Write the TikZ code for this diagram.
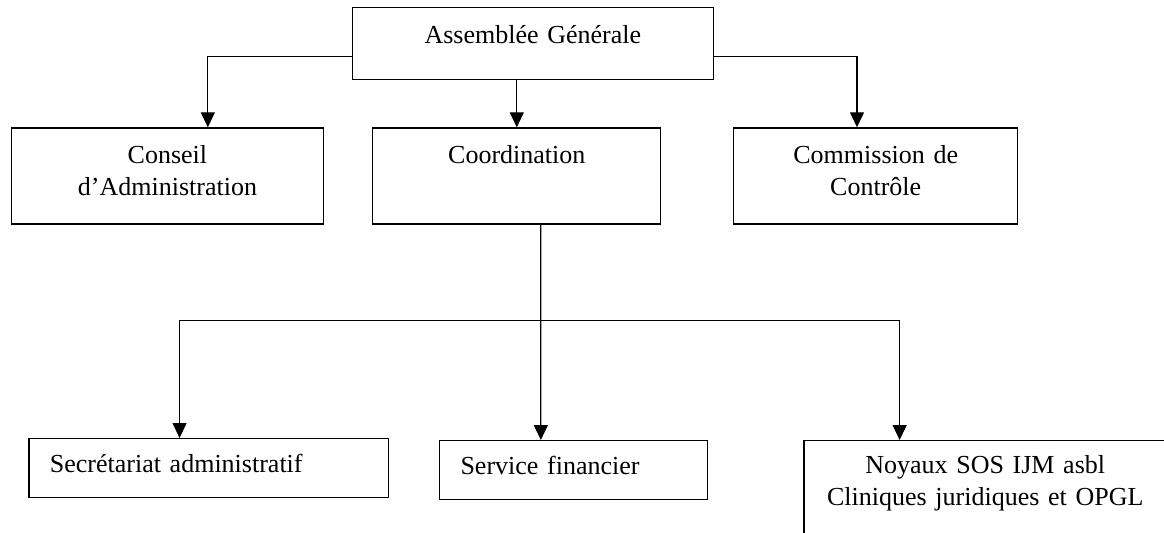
\documentclass[tikz,border=0pt]{standalone}
\usepackage{fontspec}
\setmainfont{Liberation Serif}
\usetikzlibrary{arrows.meta, positioning, calc}

\begin{document}
\begin{tikzpicture}[
  x=0.5pt, y=-0.5pt,
  node distance=24pt,
  every node/.style={font=\fontsize{13}{15.7}\selectfont},
  box/.style={
    draw=black, line width=0.6pt, rectangle,
    inner sep=0pt, align=center
  },
  level2/.style={box, text height=17.85pt, text depth=30.15pt},
  level3/.style={box, align=left, inner xsep=10.5pt,
    text height=16.9pt, text depth=12.45pt},
  arrow/.style={-{Triangle[length=7.5pt, width=7pt]}, line width=0.6pt}
]
  \useasboundingbox (0,0) rectangle (1164,532);

  % Assemblée
  \node[box, anchor=north west, text width=180.5pt,
    text height=18pt, text depth=18pt] (ag) at (351.7,7) {Assemblée Générale};

  % Deuxième niveau
  \node[level2, anchor=north west, text width=155.85pt] (conseil) at (11,127.3)
    {Conseil\\d’Administration};
  \node[level2, right=24.15pt of conseil, text width=144pt] (coord) {Coordination};
  \node[level2, right=35.85pt of coord, text width=142pt] (commission)
    {Commission de\\Contrôle};

  % Services
  \node[level3, anchor=north west, text width=158.85pt] (secret) at (28.3,438)
    {Secrétariat administratif};
  \node[level3, right=24.85pt of secret, yshift=-1pt, text width=113.15pt] (finance)
    {Service financier};
  \node[box, anchor=north west, text width=181.35pt,
    text height=16.5pt, text depth=33.5pt] (noyaux) at (803.3,440)
    {Noyaux SOS IJM asbl\\Cliniques juridiques et OPGL};

  % Flèches du haut
  \draw[arrow] ([yshift=-6.35pt]ag.west) -| ([xshift=20.2pt]conseil.north);
  \draw[arrow] (coord.north |- ag.south) -- (coord.north);
  \draw[arrow] ([yshift=-6.35pt]ag.east) -| ([xshift=-9.35pt]commission.north);

  % Flèches du bas
  \path ([xshift=12pt]coord.south) ++(0,96) coordinate (bus);
  \draw[arrow] ([xshift=12pt]coord.south) -- ([xshift=-16.4pt]finance.north);
  \draw[arrow] (bus) -| ([xshift=-14.6pt]secret.north);
  \draw[arrow] (bus) -| ([xshift=-42.8pt]noyaux.north);

\end{tikzpicture}
\end{document}
